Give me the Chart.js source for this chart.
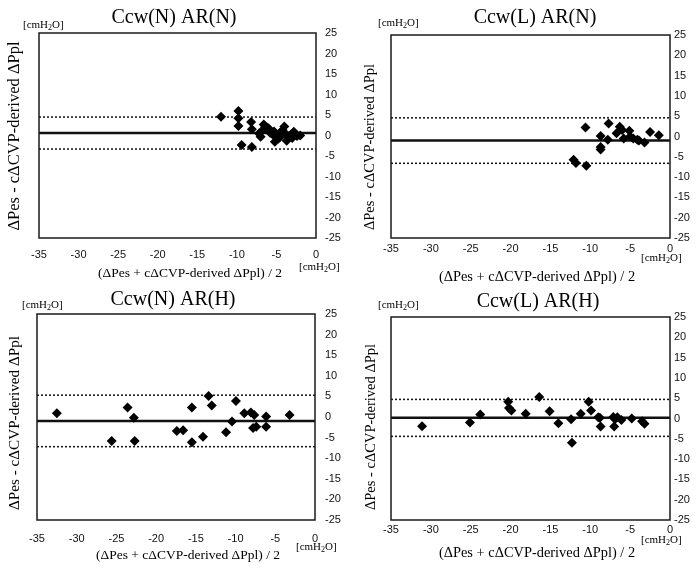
<!DOCTYPE html>
<html>
<head>
<meta charset="utf-8">
<script src="https://cdn.jsdelivr.net/npm/chart.js@4.4.1/dist/chart.umd.min.js"></script>
<style>
  body { margin: 0; background: #fff; }
  #wrap { position: relative; width: 698px; height: 569px; }
  canvas { position: absolute; }
</style>
</head>
<body>
<div id="wrap">
  <canvas id="c1" width="349" height="284" style="left:0;top:0"></canvas>
  <canvas id="c2" width="349" height="284" style="left:349px;top:0"></canvas>
  <canvas id="c3" width="349" height="285" style="left:0;top:284px"></canvas>
  <canvas id="c4" width="349" height="285" style="left:349px;top:284px"></canvas>
</div>
<script>
// axis ranges
var xMin = -35, xMax = 0, xStep = 5;
var yMin = -25, yMax = 25, yStep = 5;

var titles = ['Ccw(N) AR(N)', 'Ccw(L) AR(N)', 'Ccw(N) AR(H)', 'Ccw(L) AR(H)'];

// Ccw(N) AR(N)
var nnX = [-12.0, -9.8, -9.8, -9.8, -9.4, -8.2, -8.1, -8.1, -7.0, -6.6, -6.4, -6.1, -5.9, -5.8, -5.5, -5.3, -5.2,
           -5.0, -4.8, -4.6, -4.5, -4.2, -4.0, -3.9, -3.7, -3.5, -3.2, -3.0, -2.8, -2.6, -2.4, -2.0, -6.8, -7.2];
var nnY = [4.6, 6.0, 4.2, 2.3, -2.3, 3.3, 1.5, -2.8, -0.3, 2.7, 2.2, 1.9, 1.5, 0.7, 0.3, 1.0, -1.5,
           0.0, -0.8, -0.5, 0.8, 1.3, 2.2, 0.4, -1.3, -0.2, 0.2, -0.6, 0.9, 0.3, -0.1, 0.0, 1.2, 0.5];
var nnLines = [4.5, 0.6, -3.3]; // upper, mean, lower

// Ccw(L) AR(N)
var lnX = [-10.6, -7.7, -8.7, -7.8, -8.7, -8.7, -12.1, -11.8, -10.5, -6.7, -6.3, -6.0, -5.8, -5.1, -5.0, -4.6,
           -4.1, -3.9, -3.2, -2.5, -1.4];
var lnY = [2.2, 3.2, 0.1, -0.8, -2.6, -3.2, -5.7, -6.5, -7.2, 0.8, 2.4, 1.6, -0.5, 1.4, 0.0, -0.5,
           -0.8, -1.0, -1.5, 1.1, 0.3];
var lnLines = [4.6, -1.0, -6.6];

// Ccw(N) AR(H)
var nhX = [-32.5, -23.6, -22.8, -25.6, -22.7, -17.4, -16.6, -15.5, -15.5, -14.1, -13.4, -13.0, -11.2, -10.45,
           -9.95, -8.9, -8.07, -7.65, -7.8, -7.4, -6.15, -6.15, -3.2];
var nhY = [0.9, 2.3, -0.2, -5.8, -5.8, -3.4, -3.2, 2.3, -6.1, -4.8, 5.1, 2.8, -3.7, -1.1,
           3.9, 0.9, 1.1, 0.5, -2.7, -2.35, 0.1, -2.35, 0.5];
var nhLines = [5.3, -0.95, -7.2];

// Ccw(L) AR(H)
var lhX = [-31.1, -25.1, -23.8, -20.3, -20.2, -19.9, -18.1, -16.4, -15.1, -14.0, -12.4, -12.3, -11.2, -10.2,
           -9.9, -9.0, -8.8, -8.7, -7.1, -6.9, -7.0, -6.6, -6.1, -4.8, -3.5, -3.2];
var lhY = [-1.9, -1.0, 1.0, 4.1, 2.6, 2.0, 1.2, 5.3, 1.8, -1.2, -0.2, -6.0, 1.2, 4.1,
           2.0, 0.3, 0.2, -2.0, 0.4, -0.2, -2.0, 0.3, -0.4, 0.0, -0.7, -1.3];
var lhLines = [4.7, 0.2, -4.4];

var yLabel = 'ΔPes - cΔCVP-derived ΔPpl';
var xLabel = '(ΔPes + cΔCVP-derived ΔPpl) / 2';

// where things sit inside each canvas
var layouts = [
  {area: [39, 33, 316, 238], title: [174, 18], yT: [15, 136, 16.5], xT: [190, 273, 13.5], uTop: [23, 25], uBot: [299, 267], xPad: 10, yPad: 9},
  {area: [42, 35, 321, 238], title: [186, 18], yT: [21, 147, 14.5], xT: [188, 277, 14.4], uTop: [29, 23], uBot: [292, 258], xPad: 4, yPad: 4},
  {area: [37, 30, 315, 236], title: [173, 16], yT: [15, 139, 15.2], xT: [188, 271, 13.5], uTop: [22, 21], uBot: [296, 263], xPad: 12, yPad: 10},
  {area: [42, 33, 321, 236], title: [189, 18], yT: [22, 143, 14.5], xT: [188, 269, 14.4], uTop: [29, 21], uBot: [292, 256], xPad: 3, yPad: 4}
];

var serif = '"Liberation Serif", "Times New Roman", serif';

function drawUnit(ctx, x, y) {
  ctx.textAlign = 'left';
  ctx.textBaseline = 'middle';
  ctx.font = '11px ' + serif;
  ctx.fillText('[cmH', x, y);
  var w = ctx.measureText('[cmH').width;
  ctx.font = '8px ' + serif;
  ctx.fillText('2', x + w, y + 3);
  var w2 = ctx.measureText('2').width;
  ctx.font = '11px ' + serif;
  ctx.fillText('O]', x + w + w2, y);
}

// box, title, axis titles and units for one panel
function extras(idx) {
  var L = layouts[idx];
  return {
    id: 'extras' + idx,
    afterDraw: function(chart) {
      var ctx = chart.ctx, a = chart.chartArea;
      ctx.save();
      ctx.strokeStyle = '#1a1a1a';
      ctx.lineWidth = 1.5;
      ctx.strokeRect(a.left, a.top, a.right - a.left, a.bottom - a.top);

      ctx.fillStyle = '#000';
      ctx.textAlign = 'center';
      ctx.textBaseline = 'middle';
      ctx.font = '20px ' + serif;
      ctx.fillText(titles[idx], L.title[0], L.title[1]);

      ctx.font = L.xT[2] + 'px ' + serif;
      ctx.fillText(xLabel, L.xT[0], L.xT[1]);

      ctx.save();
      ctx.translate(L.yT[0], L.yT[1]);
      ctx.rotate(-Math.PI / 2);
      ctx.font = L.yT[2] + 'px ' + serif;
      ctx.fillText(yLabel, 0, 0);
      ctx.restore();

      drawUnit(ctx, L.uTop[0], L.uTop[1]);
      drawUnit(ctx, L.uBot[0], L.uBot[1]);
      ctx.restore();
    }
  };
}

function hline(v, dashed, width) {
  return {
    data: [{x: xMin, y: v}, {x: xMax, y: v}],
    showLine: true,
    pointRadius: 0,
    borderColor: '#111',
    borderWidth: width,
    borderDash: dashed ? [2, 2] : []
  };
}

var tickFont = {family: '"Liberation Sans", Arial, sans-serif', size: 11};

function makeChart(idx, xs, ys, lines) {
  var L = layouts[idx];
  var canvas = document.getElementById('c' + (idx + 1));
  var W = canvas.width, H = canvas.height;
  new Chart(canvas, {
    type: 'scatter',
    data: {
      datasets: [
        {
          data: xs.map(function(x, i) { return {x: x, y: ys[i]}; }),
          pointStyle: 'rectRot',
          pointRadius: 5,
          backgroundColor: '#000',
          borderWidth: 0
        },
        hline(lines[1], false, 2.5),
        hline(lines[0], true, 1.5),
        hline(lines[2], true, 1.5)
      ]
    },
    options: {
      responsive: false,
      animation: false,
      layout: {padding: {top: L.area[1], left: 0, right: 0, bottom: 0}},
      plugins: {legend: {display: false}, tooltip: {enabled: false}},
      scales: {
        x: {
          type: 'linear', min: xMin, max: xMax,
          ticks: {stepSize: xStep, padding: L.xPad, font: tickFont, color: '#111', maxRotation: 0, autoSkip: false},
          grid: {display: false, drawTicks: false}, border: {display: false},
          afterFit: function(s) { s.height = H - L.area[3]; }
        },
        y: {
          type: 'linear', position: 'right', min: yMin, max: yMax,
          ticks: {stepSize: yStep, padding: L.yPad, font: tickFont, color: '#111', autoSkip: false},
          grid: {display: false, drawTicks: false}, border: {display: false},
          afterFit: function(s) { s.width = W - L.area[2]; }
        },
        yl: {
          type: 'linear', position: 'left',
          ticks: {display: false}, grid: {display: false, drawTicks: false}, border: {display: false},
          afterFit: function(s) { s.width = L.area[0]; }
        }
      }
    },
    plugins: [extras(idx)]
  });
}

makeChart(0, nnX, nnY, nnLines);
makeChart(1, lnX, lnY, lnLines);
makeChart(2, nhX, nhY, nhLines);
makeChart(3, lhX, lhY, lhLines);
</script>
</body>
</html>
